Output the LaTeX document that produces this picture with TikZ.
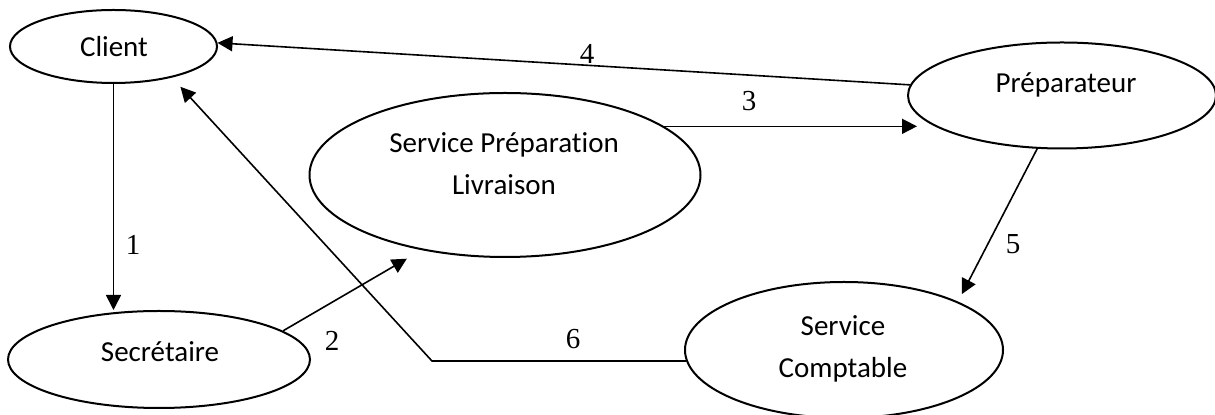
\documentclass[tikz,border=0pt]{standalone}
\usepackage{fontspec}
\setmainfont{Carlito}[Ligatures=NoCommon]
\newfontfamily\numfont{Liberation Serif}
\usetikzlibrary{arrows.meta,shapes.geometric}
\begin{document}
\begin{tikzpicture}[x=0.5pt,y=-0.5pt,
  ell/.style={draw,ellipse,line width=1pt,inner sep=0pt},
  txt/.style={font=\fontsize{14.5}{21}\selectfont,align=center,anchor=base,inner sep=0pt},
  num/.style={font=\numfont\fontsize{14.5}{16}\selectfont,inner sep=0pt},
  conn/.style={line width=0.8pt},
  arr/.style={conn,-{Triangle[length=7.5pt,width=7.5pt]}}]
\useasboundingbox (0,0) rectangle (1215,415);
% ellipses
\node[ell,minimum width=103.5pt,minimum height=36.5pt] (client) at (113.5,46.5) {};
\node[ell,minimum width=195.5pt,minimum height=82pt] (spl) at (505,175) {};
\node[ell,minimum width=154pt,minimum height=53pt] (prep) at (1062,95.5) {};
\node[ell,minimum width=151pt,minimum height=48.5pt] (sec) at (159,359.5) {};
\node[ell,minimum width=159pt,minimum height=68pt] (sc) at (844,350) {};
% texts
\node[txt] (tclient) at (114,57) {Client};
\node[txt] (tspl) at (504,195) {Service Préparation\\Livraison};
\node[txt] (tprep) at (1066,93) {Préparateur};
\node[txt] (tsec) at (160,362) {Secrétaire};
\node[txt] (tsc) at (843,378) {Service\\Comptable};
% connectors
\draw[arr] (client.south) -- (client.south |- sec.north);
\draw[arr,shorten >=8.5pt] (sec.13) -- (spl.222);
\draw[arr,shorten >=-5pt] (spl.17) -- (spl.17 -| prep.west);
\draw[arr] (prep.176) -- (client.2);
\draw[arr,shorten >=4.25pt] (prep.245) -- (sc.23);
\coordinate (c6) at (432,361);
\draw[arr,shorten >=6.25pt] (sc.184) -- (sc.184 -| c6) -- (client.332);
% labels
\node[num] (n1) at (133,245) {1};
\node[num] (n2) at (332,341) {2};
\node[num] (n3) at (749,101) {3};
\node[num] (n4) at (587,54) {4};
\node[num] (n5) at (1013,244) {5};
\node[num] (n6) at (573,339) {6};
\end{tikzpicture}
\end{document}
